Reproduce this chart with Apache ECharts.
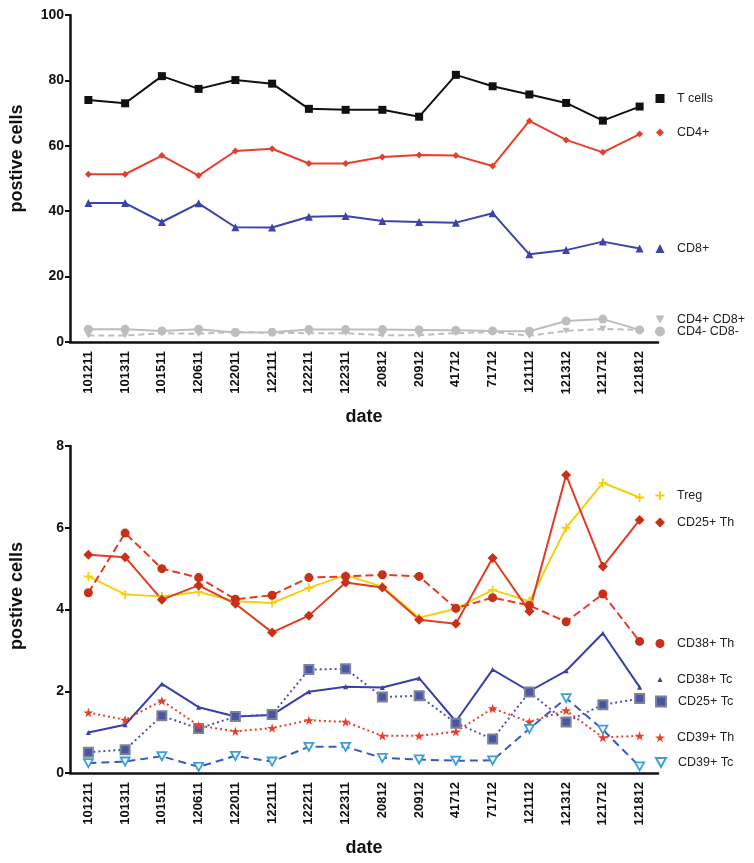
<!DOCTYPE html>
<html>
<head>
<meta charset="utf-8">
<script src="https://cdn.jsdelivr.net/npm/echarts@6/dist/echarts.min.js"></script>
<style>
  html, body { margin: 0; padding: 0; background: #fff; }
  #chart { width: 754px; height: 863px; }
</style>
</head>
<body>
<div id="chart"></div>
<script>
// ---- data ----
const categories = ['101211','101311','101511','120611','122011','122111','122211','122311','20812','20912','41712','71712','121112','121312','121712','121812'];

// top panel (%)
const tCells   = [74, 73, 81.3, 77.4, 80.1, 79, 71.3, 71, 71, 68.9, 81.7, 78.2, 75.7, 73.1, 67.7, 72];
const cd4      = [51.3, 51.3, 57, 50.9, 58.4, 59.1, 54.6, 54.6, 56.6, 57.2, 57, 53.8, 67.6, 61.8, 58, 63.6];
const cd8      = [42.5, 42.5, 36.7, 42.4, 35.1, 35, 38.3, 38.5, 37, 36.7, 36.5, 39.4, 26.8, 28.1, 30.7, 28.6];
const cd4cd8dp = [2.0, 2.0, 2.7, 2.5, 3.1, 2.8, 2.7, 2.7, 2.1, 2.1, 2.7, 3.1, 1.9, 3.4, 4.0, 3.7];
const cd4cd8dn = [3.9, 3.9, 3.4, 3.9, 2.9, 3.0, 3.8, 3.8, 3.8, 3.7, 3.6, 3.4, 3.3, 6.4, 7.0, 3.7];

// bottom panel (%)
const treg   = [4.81, 4.37, 4.32, 4.43, 4.2, 4.16, 4.53, 4.84, 4.56, 3.8, 4.02, 4.48, 4.2, 6.0, 7.1, 6.74];
const cd25Th = [5.34, 5.28, 4.24, 4.59, 4.14, 3.44, 3.85, 4.66, 4.54, 3.75, 3.65, 5.26, 3.96, 7.29, 5.05, 6.19];
const cd38Th = [4.41, 5.87, 5.0, 4.78, 4.25, 4.35, 4.78, 4.81, 4.85, 4.81, 4.03, 4.29, 4.1, 3.7, 4.38, 3.22];
const cd38Tc = [0.99, 1.18, 2.18, 1.61, 1.38, 1.42, 1.99, 2.11, 2.09, 2.32, 1.26, 2.53, 2.0, 2.5, 3.42, 2.1];
const cd25Tc = [0.51, 0.57, 1.4, 1.09, 1.38, 1.43, 2.53, 2.55, 1.86, 1.89, 1.22, 0.83, 1.98, 1.25, 1.67, 1.82];
const cd39Th = [1.48, 1.3, 1.77, 1.16, 1.02, 1.1, 1.29, 1.25, 0.91, 0.91, 1.01, 1.58, 1.25, 1.53, 0.87, 0.91];
const cd39Tc = [0.24, 0.28, 0.41, 0.15, 0.42, 0.28, 0.64, 0.64, 0.37, 0.33, 0.3, 0.31, 1.08, 1.83, 1.06, 0.16];

// ---- styling ----
const FONT = '"Liberation Sans", Arial, Helvetica, sans-serif';
const DOWN_TRI = 'path://M0,0 L10,0 L5,9 Z';
const PLUS = 'path://M4,0 H6 V4 H10 V6 H6 V10 H4 V6 H0 V4 H4 Z';
const STAR = 'path://M50,0 L61,35 L98,35 L68,57 L79,91 L50,70 L21,91 L32,57 L2,35 L39,35 Z';

function xAxisCfg(gridIndex) {
  return {
    type: 'category', gridIndex, data: categories, boundaryGap: true,
    name: 'date', nameLocation: 'middle', nameGap: 66,
    nameTextStyle: { fontFamily: FONT, fontSize: 18, fontWeight: 'bold', color: '#111' },
    axisLine: { lineStyle: { color: '#111', width: 2.5 } },
    axisTick: { alignWithLabel: true, length: 5, lineStyle: { color: '#111', width: 2 } },
    axisLabel: { rotate: 90, margin: 9, fontFamily: FONT, fontSize: 13, fontWeight: 'bold', color: '#111' },
    splitLine: { show: false }
  };
}
function yAxisCfg(gridIndex, max, interval, shift) {
  return {
    type: 'value', gridIndex, min: 0, max, interval,
    name: 'postive cells', nameLocation: 'middle', nameGap: 44,
    nameTextStyle: { fontFamily: FONT, fontSize: 18, fontWeight: 'bold', color: '#111', padding: [0, 0, 0, shift] },
    axisLine: { show: true, lineStyle: { color: '#111', width: 2.5 } },
    axisTick: { show: true, length: 5, lineStyle: { color: '#111', width: 2 } },
    axisLabel: { margin: 6, fontFamily: FONT, fontSize: 14, fontWeight: 'bold', color: '#111' },
    splitLine: { show: false }
  };
}
function line(name, data, idx, color, opts) {
  return Object.assign({
    name, type: 'line', data, xAxisIndex: idx, yAxisIndex: idx,
    showSymbol: true, symbolKeepAspect: true, animation: false,
    lineStyle: { color, width: 2, type: (opts && opts.dash) || 'solid' },
    itemStyle: { color: (opts && opts.mcolor) || color, borderColor: (opts && opts.border) || (opts && opts.mcolor) || color, borderWidth: (opts && opts.bw) || 0 },
    emphasis: { disabled: true }
  }, opts && opts.extra);
}
function legendItem(name, icon, center, size) {
  const s = size || 9;
  return {
    data: [{ name, icon }], left: 660 - s / 2, top: center - 5, orient: 'vertical', padding: 0,
    itemWidth: s, itemHeight: s, selectedMode: false,
    textStyle: { fontFamily: FONT, fontSize: 12.5, color: '#222', padding: [0, 0, 0, 12 - s / 2] }
  };
}

const option = {
  backgroundColor: '#fff',
  animation: false,
  grid: [
    { left: 68, right: 96, top: 15, height: 327 },
    { left: 68, right: 96, top: 446, height: 327 }
  ],
  xAxis: [xAxisCfg(0), xAxisCfg(1)],
  yAxis: [yAxisCfg(0, 100, 20, 40), yAxisCfg(1, 8, 2, 27)],
  legend: [
    legendItem('T cells', 'rect', 97),
    legendItem('CD4+', 'diamond', 131, 8),
    legendItem('CD8+', 'triangle', 247),
    legendItem('CD4+ CD8+', DOWN_TRI, 318),
    legendItem('CD4- CD8-', 'circle', 330, 10),
    legendItem('Treg', PLUS, 494),
    legendItem('CD25+ Th', 'diamond', 521, 10),
    legendItem('CD38+ Th', 'circle', 642, 9),
    legendItem('CD38+ Tc', 'triangle', 678, 5),
    legendItem('CD25+ Tc', 'rect', 700, 10),
    legendItem('CD39+ Th', STAR, 736, 10),
    legendItem('CD39+ Tc', DOWN_TRI, 761, 10)
  ],
  series: [
    line('T cells', tCells, 0, '#111111', { extra: { symbol: 'rect', symbolSize: 8 } }),
    line('CD4+', cd4, 0, '#e5402b', { extra: { symbol: 'diamond', symbolSize: 7 } }),
    line('CD8+', cd8, 0, '#3c44a8', { extra: { symbol: 'triangle', symbolSize: 8 } }),
    line('CD4+ CD8+', cd4cd8dp, 0, '#bdbdbd', { dash: [6, 4], extra: { symbol: DOWN_TRI, symbolSize: 7 } }),
    line('CD4- CD8-', cd4cd8dn, 0, '#bdbdbd', { extra: { symbol: 'circle', symbolSize: 9 } }),

    line('Treg', treg, 1, '#f5cf12', { extra: { symbol: PLUS, symbolSize: 9 } }),
    line('CD25+ Th', cd25Th, 1, '#e23d22', { mcolor: '#c8301a', extra: { symbol: 'diamond', symbolSize: 10 } }),
    line('CD38+ Th', cd38Th, 1, '#e23d22', { dash: [8, 4], mcolor: '#c8301a', extra: { symbol: 'circle', symbolSize: 9 } }),
    line('CD38+ Tc', cd38Tc, 1, '#3a3fa8', { extra: { symbol: 'triangle', symbolSize: 5 } }),
    line('CD25+ Tc', cd25Tc, 1, '#4a52b4', { dash: [2, 3], mcolor: '#4856a8', border: '#7d8296', bw: 2, extra: { symbol: 'rect', symbolSize: 9 } }),
    line('CD39+ Th', cd39Th, 1, '#e5402b', { dash: [2, 3], extra: { symbol: STAR, symbolSize: 10 } }),
    line('CD39+ Tc', cd39Tc, 1, '#3a5cb8', { dash: [8, 5], mcolor: '#ffffff', border: '#3aa0d8', bw: 1.8, extra: { symbol: DOWN_TRI, symbolSize: 9 } })
  ]
};

const chart = echarts.init(document.getElementById('chart'), null, { renderer: 'canvas' });
chart.setOption(option);
</script>
</body>
</html>
